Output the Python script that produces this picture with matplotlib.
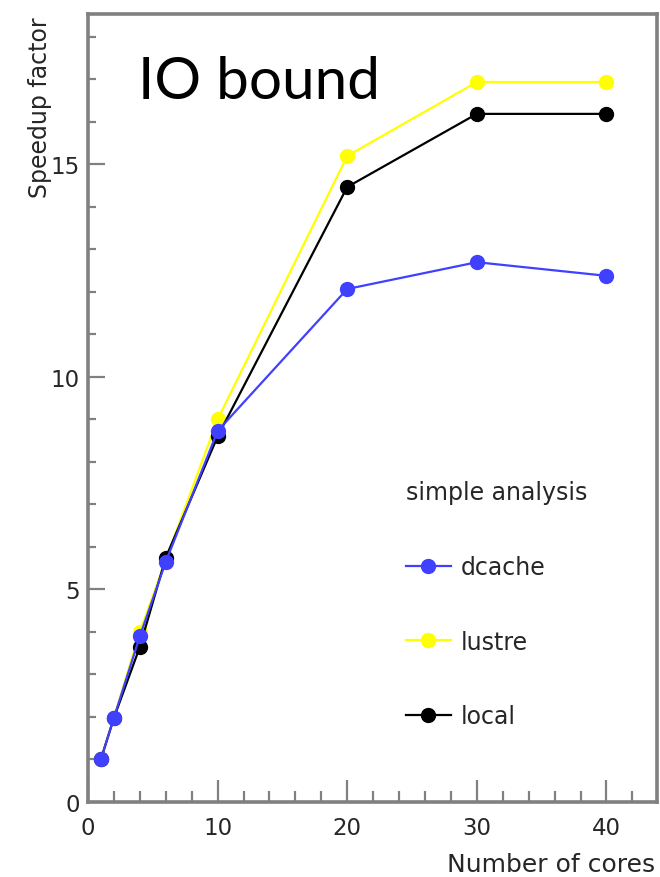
import matplotlib
matplotlib.use('Agg')
import matplotlib.pyplot as plt
from matplotlib.ticker import MultipleLocator

# number of cores and measured speedup for each storage backend
cores = [1, 2, 4, 6, 10, 20, 30, 40]
dcache = [1.01, 1.98, 3.90, 5.65, 8.73, 12.07, 12.70, 12.38]
lustre = [1.01, 1.98, 4.00, 5.70, 9.00, 15.20, 16.94, 16.94]
local = [1.01, 1.98, 3.65, 5.75, 8.60, 14.47, 16.19, 16.19]

series_names = ['dcache', 'lustre', 'local']
series_colors = ['#4040ff', '#ffff00', '#000000']

fig = plt.figure(figsize=(6.6, 8.78), dpi=100)
ax = fig.add_axes([88 / 660, 75 / 878, 569 / 660, 788 / 878])

# draw lustre first, then local, dcache on top
handles = {}
for name, ys, col in [('lustre', lustre, series_colors[1]),
                      ('local', local, series_colors[2]),
                      ('dcache', dcache, series_colors[0])]:
    line, = ax.plot(cores, ys, color=col, lw=1.6, marker='o', ms=10,
                    mec=col, mfc=col)
    handles[name] = line

ax.set_xlim(0, 43.9)
ax.set_ylim(0, 18.54)

ax.xaxis.set_major_locator(MultipleLocator(10))
ax.xaxis.set_minor_locator(MultipleLocator(2))
ax.yaxis.set_major_locator(MultipleLocator(5))
ax.yaxis.set_minor_locator(MultipleLocator(1))

gray = '#808080'
txt = '#262626'
for sp in ax.spines.values():
    sp.set_color(gray)
    sp.set_linewidth(2.6)
ax.tick_params(axis='both', which='both', direction='in', color=gray,
               width=1.6, top=False, right=False, labelcolor=txt,
               labelsize=16.5)
ax.tick_params(axis='x', which='major', length=16, pad=10)
ax.tick_params(axis='x', which='minor', length=8)
ax.tick_params(axis='y', which='major', length=12, pad=6)
ax.tick_params(axis='y', which='minor', length=6)

fig.text(40 / 660, 1 - 17 / 878, 'Speedup factor', rotation=90,
         ha='center', va='top', fontsize=17, color=txt)
fig.text(655 / 660, 1 - 865 / 878, 'Number of cores', ha='right',
         va='center', fontsize=18, color=txt)

ax.text((138 - 88) / 569, 1 - (99 - 15) / 788, 'IO bound',
        transform=ax.transAxes, fontsize=42, family='Lato',
        ha='left', va='baseline', color='black')

leg = ax.legend([handles[n] for n in series_names], series_names,
                title='simple analysis', frameon=False, fontsize=17,
                title_fontsize=17, alignment='left', labelspacing=2.15,
                handlelength=1.9, handletextpad=0.4, borderpad=0,
                borderaxespad=0,
                loc='upper left', bbox_to_anchor=((406 - 88) / 569,
                                                   1 - (481 - 15) / 788))
for t in leg.get_texts():
    t.set_color(txt)
leg.get_title().set_color(txt)

fig.savefig('out.png', dpi=100)
